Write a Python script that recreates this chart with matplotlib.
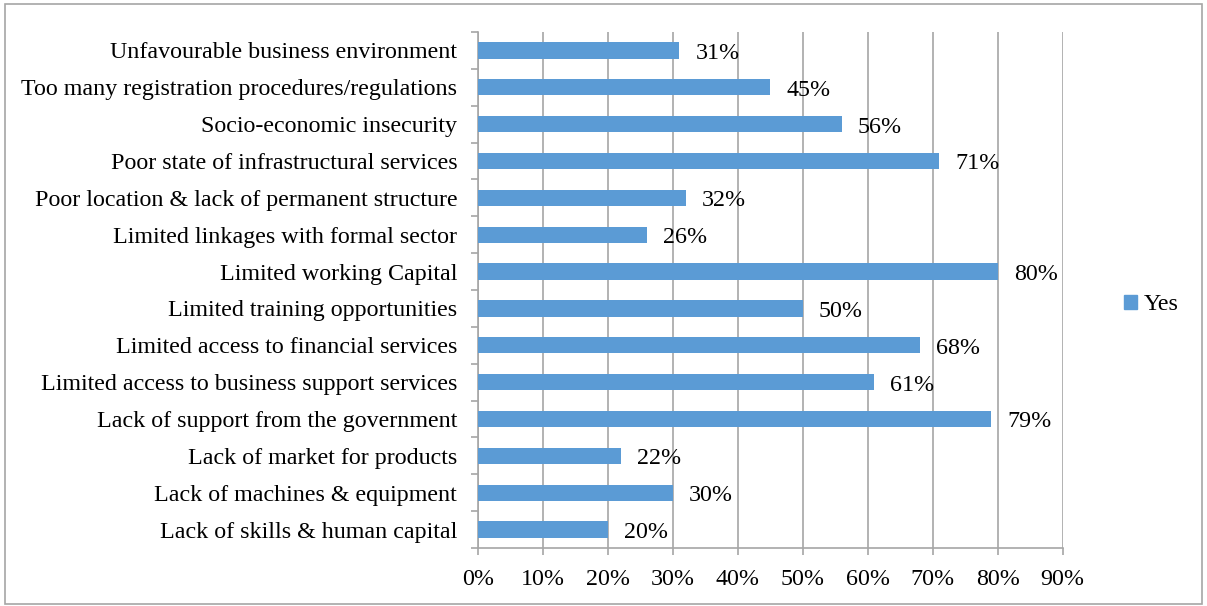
import matplotlib.pyplot as plt
import matplotlib.patches as mpatches

plt.rcParams['font.family'] = ['Liberation Serif', 'DejaVu Serif']

categories = [
    "Lack of skills & human capital",
    "Lack of machines & equipment",
    "Lack of market for products",
    "Lack of support from the government",
    "Limited access to business support services",
    "Limited access to financial services",
    "Limited training opportunities",
    "Limited working Capital",
    "Limited linkages with formal sector",
    "Poor location & lack of permanent structure",
    "Poor state of infrastructural services",
    "Socio-economic insecurity",
    "Too many registration procedures/regulations",
    "Unfavourable business environment",
]
yes_values = [20, 30, 22, 79, 61, 68, 50, 80, 26, 32, 71, 56, 45, 31]
x_ticks = [0, 10, 20, 30, 40, 50, 60, 70, 80, 90]

bar_color = "#5B9BD5"
grid_color = "#A6A6A6"
fs = 17.3

fig = plt.figure(figsize=(12.07, 6.06), dpi=100)
ax = fig.add_axes([0.396, 0.0957, 0.4844, 0.8515])

y = list(range(len(categories)))
ax.barh(y, yes_values, height=0.44, color=bar_color, zorder=3, label="Yes")
for yi, v in zip(y, yes_values):
    ax.text(v + 2.5, yi - 0.08, f"{v}%", va="center", ha="left", fontsize=fs, zorder=4)

ax.set_xlim(0, 90)
ax.set_ylim(-0.5, len(categories) - 0.5)
ax.set_xticks(x_ticks)
ax.set_xticklabels([f"{t}%" for t in x_ticks], fontsize=fs)
ax.set_yticks(y)
ax.set_yticklabels(categories, fontsize=fs)
ax.set_yticks([i - 0.5 for i in range(len(categories) + 1)], minor=True)

ax.xaxis.grid(True, color=grid_color, linewidth=1.2, zorder=0)
ax.yaxis.grid(False)
ax.tick_params(axis="y", which="major", length=0, pad=15)
ax.tick_params(axis="y", which="minor", length=5, color=grid_color, width=1.2)
ax.tick_params(axis="x", length=5, color=grid_color, width=1.2, pad=10)

for side in ["top", "right"]:
    ax.spines[side].set_visible(False)
for side in ["left", "bottom"]:
    ax.spines[side].set_color(grid_color)
    ax.spines[side].set_linewidth(1.2)

handle = mpatches.Patch(color=bar_color, label="Yes")
fig.legend(handles=[handle], loc="center left", bbox_to_anchor=(0.913, 0.497),
           frameon=False, fontsize=fs, handlelength=0.55, handleheight=0.55,
           handletextpad=0.3)

border = mpatches.Rectangle((0.004, 0.003), 0.992, 0.99, transform=fig.transFigure,
                            fill=False, edgecolor=grid_color, linewidth=1.2)
fig.patches.append(border)

fig.savefig("out.png", dpi=100)
